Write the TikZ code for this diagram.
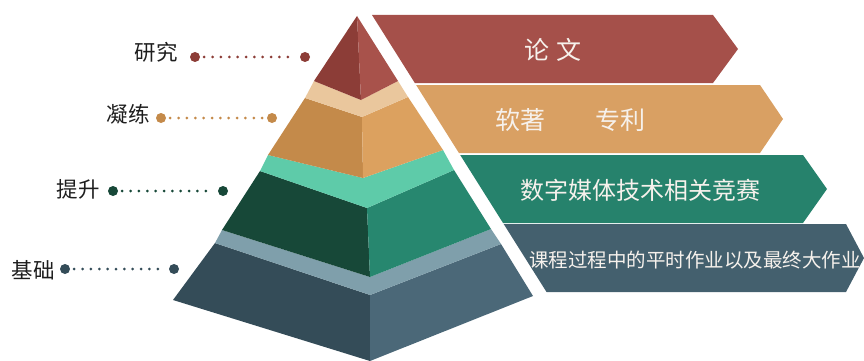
\documentclass[tikz,border=0pt]{standalone}
\usepackage{fontspec}
\setmainfont{Noto Sans CJK SC}

\definecolor{redL}{HTML}{8C3D37}
\definecolor{redR}{HTML}{A8524B}
\definecolor{redBand}{HTML}{A5504A}
\definecolor{tanT}{HTML}{EAC79D}
\definecolor{tanL}{HTML}{C48A4A}
\definecolor{tanR}{HTML}{DCA15F}
\definecolor{tanBand}{HTML}{D9A063}
\definecolor{grnT}{HTML}{5ECBA9}
\definecolor{grnL}{HTML}{174838}
\definecolor{grnR}{HTML}{27876F}
\definecolor{grnBand}{HTML}{26826C}
\definecolor{slaT}{HTML}{7F9FAB}
\definecolor{slaL}{HTML}{344C58}
\definecolor{slaR}{HTML}{4B6878}
\definecolor{slaBand}{HTML}{44606E}
\definecolor{lblgray}{HTML}{1E1E1E}
\definecolor{bandwhite}{HTML}{F6F1EC}

\tikzset{
	lbl/.style={font=\fontsize{21.5}{21.5}\selectfont, text=lblgray, anchor=east, inner sep=0pt},
	bandtext/.style={font=\fontsize{#1}{#1}\selectfont, text=bandwhite, inner sep=0pt},
	enddot/.style={circle, fill=#1, inner sep=0pt, minimum size=10pt},
	leader/.style={#1, line width=3pt, line cap=round, dash pattern=on 0pt off 8.36pt, shorten >=4pt, shorten <=4pt},
}

\begin{document}
\begin{tikzpicture}[x=1pt, y=-1pt]
			\useasboundingbox (0,0) rectangle (864,361);
			% bands, left edge follows the cut
			\foreach \t/\r/\tip/\c in {15/713/738/redBand, 85/760/783/tanBand, 155/803/827/grnBand, 224/846/864/slaBand}{
				\pgfmathsetmacro{\b}{\t+68}
				\pgfmathsetmacro{\m}{\t+34}
				\pgfmathsetmacro{\xt}{372+0.63*(\t-15)}
				\pgfmathsetmacro{\xb}{372+0.63*(\b-15)}
				\fill[\c] (\xt,\t) -- (\r,\t) -- (\tip,\m) -- (\r,\b) -- (\xb,\b) -- cycle;
			}
			\node[bandtext=25] (lunwen) at (553,50) {论\hspace{0.3em}文};
			\node[bandtext=25] (ruanzhu) at (570,120) {软著\hspace{2em}专利};
			\node[bandtext=24] (jingsai) at (640,190) {数字媒体技术相关竞赛};
			\node[bandtext=19.5] (zuoye) at (695,260) {课程过程中的平时作业以及最终大作业};

			% pyramid, bottom tier first
			\fill[slaL] (215,243) -- (370,295) -- (370,361) -- (173,300) -- cycle;
			\fill[slaR] (370,295) -- (501,244) -- (533,296) -- (370,361) -- cycle;
			\fill[slaT] (222,230) -- (370,277) -- (491,229) -- (501,244) -- (370,295) -- (215,243) -- cycle;
			% green tier
			\fill[grnL] (260,171) -- (367,208) -- (370,277) -- (222,230) -- cycle;
			\fill[grnR] (367,208) -- (454,170) -- (491,229) -- (370,277) -- cycle;
			\fill[grnT] (268,155) -- (363,178) -- (443,150) -- (454,170) -- (367,208) -- (260,171) -- cycle;
			% tan tier
			\fill[tanL] (305,98) -- (362,117) -- (363,178) -- (268,155) -- cycle;
			\fill[tanR] (362,117) -- (408,97) -- (443,150) -- (363,178) -- cycle;
			\fill[tanT] (314,81) -- (361,100) -- (398,81) -- (408,97) -- (362,117) -- (305,98) -- cycle;
			% top
			\fill[redL] (357,16) -- (314,81) -- (361,100) -- cycle;
			\fill[redR] (357,16) -- (361,100) -- (398,81) -- cycle;

			% labels
			\node[lbl] (yanjiu) at (178,52) {研究};
			\node[lbl] (ninglian) at (150,114) {凝练};
			\node[lbl] (tisheng) at (100,189) {提升};
			\node[lbl] (jichu) at (55,270) {基础};
			% leaders
			\foreach \n/\y/\xa/\xb/\c in {a/57/195/305/redL, b/118/161/272/tanL, c/191/113/223/grnL, d/269/65/174/slaL}{
				\node[enddot=\c] (\n1) at (\xa,\y) {};
				\node[enddot=\c] (\n2) at (\xb,\y) {};
				\draw[leader=\c] (\n1) -- (\n2);
			}
\end{tikzpicture}
\end{document}
